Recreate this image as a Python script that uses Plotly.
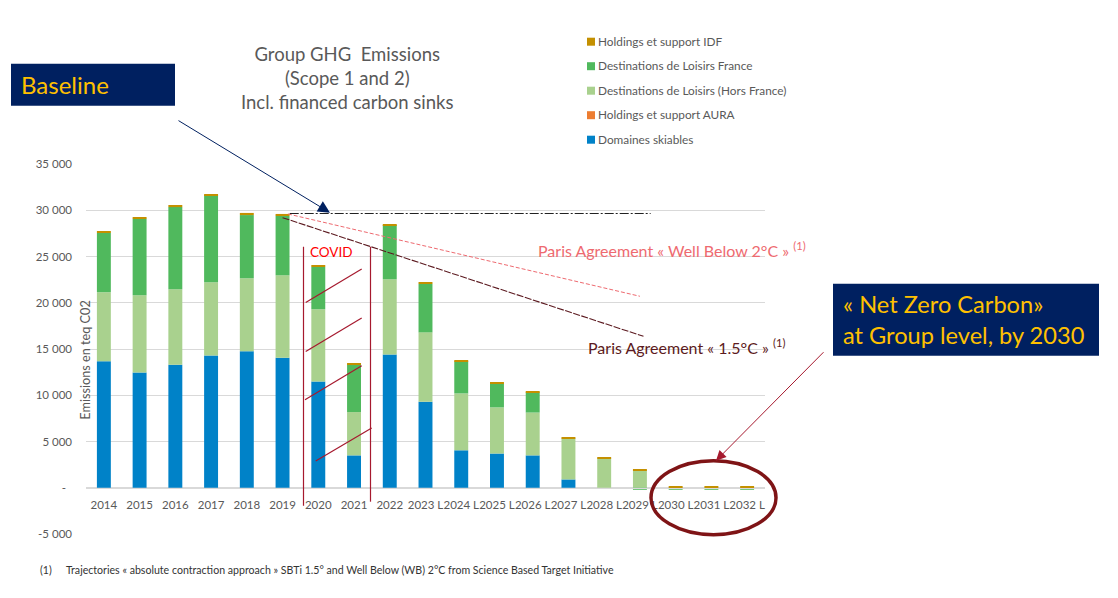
"""Group GHG emissions chart: stacked bars with trajectories and slide callouts."""

import plotly.graph_objects as go

# the page body has an 8 px margin, so the figure starts at (8, 8) in the screenshot
PAGE_MARGIN = 8
WIDTH = 1118 - 2 * PAGE_MARGIN
HEIGHT = 598 - 2 * PAGE_MARGIN
FONT = "Lato"
GREY = "#595959"
NAVY = "#002060"
GOLD = "#FFC000"
RED = "#A6192E"

years = list(range(2014, 2033))
tick_labels = ["2014", "2015", "2016", "2017", "2018", "2019", "2020", "2021", "2022",
               "2023 L", "2024 L", "2025 L", "2026 L", "2027 L", "2028 L", "2029 L",
               "2030 L", "2031 L", "2032 L"]

domaines = [13670, 12450, 13300, 14300, 14750, 14050, 11500, 3500, 14400, 9300,
            4050, 3700, 3500, 900, 0, 0, 0, 0, 0]
aura = [0] * 19
hors_france = [7470, 8350, 8160, 7920, 7900, 8920, 7800, 4680, 8140, 7500,
               6150, 4990, 4630, 4430, 3170, 1900, 0, 0, 0]
france = [6420, 8280, 8880, 9420, 6830, 6430, 4580, 5170, 5860, 5240,
          3470, 2600, 2190, 0, 0, -220, -220, -220, -220]
idf = [100, 100, 230, 110, 230, 200, 110, 120, 100, 100,
       100, 100, 100, 100, 100, 100, 100, 100, 100]

series_names = ["Domaines skiables", "Holdings et support AURA",
                "Destinations de Loisirs (Hors France)",
                "Destinations de Loisirs France", "Holdings et support IDF"]
series_values = [domaines, aura, hors_france, france, idf]
series_colors = ["#0082C8", "#ED7D31", "#A9D18E", "#50B95D", "#C49000"]

y_ticks = [-5000, 0, 5000, 10000, 15000, 20000, 25000, 30000, 35000]
y_labels = ["-5 000", "-\u00a0\u00a0", "5 000", "10 000", "15 000", "20 000", "25 000", "30 000", "35 000"]

baseline_x = [2019.2, 2029.3]
baseline_y = [29650, 29650]
wb2_x = [2019.15, 2029.0]
wb2_y = [29600, 20700]
c15_x = [2019.0, 2029.1]
c15_y = [29200, 16370]

# plot area edges in screenshot pixels
PLOT_L, PLOT_R, PLOT_T, PLOT_B = 86, 765, 164.3, 534.3


def px(x):
    return (x - PLOT_L) / (PLOT_R - PLOT_L)


def py(y):
    return (PLOT_B - y) / (PLOT_B - PLOT_T)


def text(x, y, label, size, color=GREY, xanchor="left", **kwargs):
    return dict(x=px(x), y=py(y), xref="paper", yref="paper", text=label, showarrow=False,
                xanchor=xanchor, yanchor="middle", font=dict(family=FONT, size=size, color=color),
                **kwargs)


def seg(x0, y0, x1, y1, color=RED, width=1.2):
    return dict(type="line", xref="paper", yref="paper", x0=px(x0), y0=py(y0), x1=px(x1), y1=py(y1),
                line=dict(color=color, width=width))


def arrow(x0, y0, x1, y1, color, size):
    return dict(x=px(x1), y=py(y1), ax=x0 - x1, ay=y0 - y1, xref="paper", yref="paper",
                axref="pixel", ayref="pixel", text="", showarrow=True, arrowhead=2, arrowsize=size,
                arrowwidth=1, arrowcolor=color)


fig = go.Figure()
for name, values, color in zip(series_names, series_values, series_colors):
    fig.add_trace(go.Bar(x=years, y=values, name=name, marker=dict(color=color, line_width=0)))

fig.add_trace(go.Scatter(x=baseline_x, y=baseline_y, mode="lines",
                         line=dict(color="#222222", width=1.2, dash="9px,2px,2px,2px")))
fig.add_trace(go.Scatter(x=wb2_x, y=wb2_y, mode="lines",
                         line=dict(color="#EE6A70", width=1, dash="4px,2px")))
fig.add_trace(go.Scatter(x=c15_x, y=c15_y, mode="lines",
                         line=dict(color="#5C1A20", width=1.1, dash="7px,1.5px")))

shapes = [
    seg(303.5, 247, 303.5, 506),
    seg(370.5, 247, 370.5, 502),
    seg(305.7, 302.7, 361.7, 269.3),
    seg(305.7, 351.7, 361.7, 318.3),
    seg(305, 400, 361.7, 366),
    seg(315.7, 461.3, 371.7, 428.3),
    dict(type="circle", xref="paper", yref="paper", x0=px(651), x1=px(776), y0=py(461), y1=py(535),
         line=dict(color="#7F1416", width=3.5)),
    dict(type="rect", xref="paper", yref="paper", x0=px(11), x1=px(175), y0=py(64), y1=py(106),
         fillcolor=NAVY, line_width=0),
    dict(type="rect", xref="paper", yref="paper", x0=px(833), x1=px(1099), y0=py(284), y1=py(356),
         fillcolor=NAVY, line_width=0),
]

annotations = [
    text(347, 78, "Group GHG  Emissions<br>(Scope 1 and 2)<br>Incl. financed carbon sinks", 18.5,
         xanchor="center", align="center"),
    text(19, 84.5, "Baseline", 24, GOLD),
    text(841, 319.5, "« Net Zero Carbon»<br>at Group level, by 2030", 23.6, GOLD, align="left"),
    text(308, 252, "COVID", 13.5, "#FF0000"),
    text(536, 249.5, "Paris Agreement « Well Below 2°C » <sup>(1)</sup>", 16, "#EE6A70"),
    text(586, 346.5, "Paris Agreement « 1.5°C » <sup>(1)</sup>", 16, "#5C1A20"),
    text(38, 570, "(1)", 10.5, "#333333"),
    text(64, 570, "Trajectories « absolute contraction approach » SBTi 1.5° and Well Below (WB) 2°C "
         "from Science Based Target Initiative", 10.6, "#333333"),
    text(85, 361, "Emissions en teq C02", 12.7, xanchor="center", textangle=-90),
    arrow(177, 120, 330, 213, NAVY, 2.4),
    arrow(825, 351, 716, 461, RED, 2),
]

# legend drawn by hand: the swatches are much smaller than plotly's bar legend items
for i, (name, color) in enumerate(zip(series_names, series_colors)):
    row_y = 140 - 24.5 * i
    shapes.append(dict(type="rect", xref="paper", yref="paper", x0=px(587), x1=px(595),
                       y0=py(row_y - 4), y1=py(row_y + 4), fillcolor=color, line_width=0))
    annotations.append(text(596, row_y - 0.5, name, 11.8))

fig.update_layout(
    width=WIDTH,
    height=HEIGHT,
    barmode="relative",
    bargap=0.61,
    showlegend=False,
    plot_bgcolor="white",
    paper_bgcolor="white",
    margin=dict(l=PLOT_L - PAGE_MARGIN, r=WIDTH - (PLOT_R - PAGE_MARGIN),
                t=PLOT_T - PAGE_MARGIN, b=HEIGHT - (PLOT_B - PAGE_MARGIN), pad=0),
    font=dict(family=FONT, size=11.5, color=GREY),
    shapes=shapes,
    annotations=annotations,
    xaxis=dict(
        range=[2013.5, 2032.5],
        tickmode="array",
        tickvals=years,
        ticktext=tick_labels,
        tickangle=0,
        anchor="free",
        position=5000 / 40000,
        showgrid=False,
        showline=True,
        linecolor="#D9D9D9",
        ticks="",
        ticklabelstandoff=6,
        zeroline=False,
    ),
    yaxis=dict(
        range=[-5000, 35000],
        tickmode="array",
        tickvals=y_ticks,
        ticktext=y_labels,
        gridcolor="#D9D9D9",
        zeroline=False,
        ticks="",
        ticklabelstandoff=13,
    ),
)

fig.write_html("out.html")
